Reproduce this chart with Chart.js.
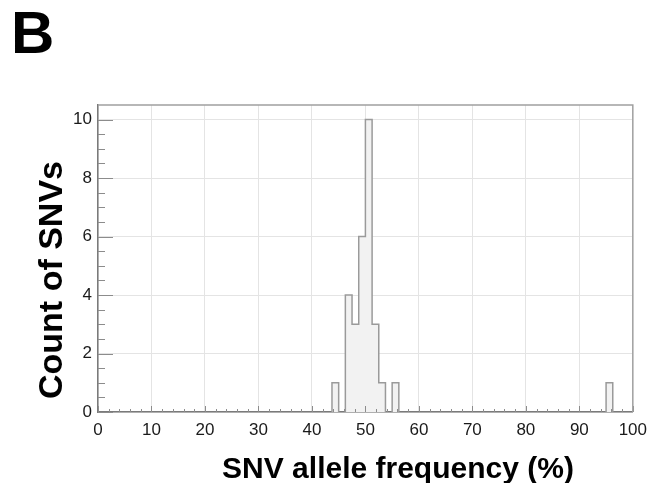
<!DOCTYPE html>
<html>
<head>
<meta charset="utf-8">
<script src="https://cdn.jsdelivr.net/npm/chart.js@4"></script>
<style>
body { margin: 0; background: #fff; }
#wrap { position: relative; width: 655px; height: 483px; font-family: "Liberation Sans", Arial, sans-serif; }
.lbl { position: absolute; font-weight: bold; line-height: 1; white-space: nowrap; color: #000; }
#panel { left: 11px; top: 3px; font-size: 60px; }
#xtitle { left: 398px; top: 453px; font-size: 30px; transform: translateX(-50%); }
#ytitle { left: 50px; top: 280px; font-size: 34px; transform: translate(-50%, -50%) rotate(-90deg); }
</style>
</head>
<body>
<div id="wrap">
  <canvas id="myChart" width="655" height="483"></canvas>
  <div class="lbl" id="panel">B</div>
  <div class="lbl" id="xtitle">SNV allele frequency (%)</div>
  <div class="lbl" id="ytitle">Count of SNVs</div>
</div>
<script>
// histogram bins (left edge, %) and counts
const binWidth = 1.25;
const binStarts = [43.75, 46.25, 47.5, 48.75, 50, 51.25, 52.5, 55, 95];
const binCounts = [1, 4, 3, 6, 10, 3, 1, 1, 1];
const xTicks = [0, 10, 20, 30, 40, 50, 60, 70, 80, 90, 100];
const yTicks = [0, 2, 4, 6, 8, 10];

// turn the bins into an outline: each point holds its value until the next one
function histPoints() {
    const pts = [];
    for (let i = 0; i < binStarts.length; i++) {
        const start = binStarts[i];
        const end = start + binWidth;
        const prevEnd = i > 0 ? binStarts[i - 1] + binWidth : null;
        if (i === 0 || Math.abs(prevEnd - start) > 1e-6) {
            if (i > 0) pts.push({ x: (prevEnd + start) / 2, y: null });
            pts.push({ x: start, y: 0 });
        }
        pts.push({ x: start, y: binCounts[i] });
        const next = binStarts[i + 1];
        if (next === undefined || Math.abs(next - end) > 1e-6) pts.push({ x: end, y: 0 });
    }
    return pts;
}

const frame = {
    id: 'frame',
    afterDatasetsDraw(chart) {
        const ctx = chart.ctx;
        const a = chart.chartArea;
        const xs = chart.scales.x;
        const ys = chart.scales.y;
        ctx.save();
        ctx.strokeStyle = '#8c8c8c';
        ctx.lineWidth = 1;
        ctx.beginPath();
        // x ticks every 2, longer at the labelled ones
        for (let v = 0; v <= 100; v += 2) {
            const px = Math.round(xs.getPixelForValue(v)) + 0.5;
            const len = xTicks.includes(v) ? 6 : 3;
            ctx.moveTo(px, a.bottom);
            ctx.lineTo(px, a.bottom - len);
        }
        // y ticks every 0.5, longer at the labelled ones
        for (let v = 0; v <= 10; v += 0.5) {
            const py = Math.round(ys.getPixelForValue(v)) + 0.5;
            const len = yTicks.includes(v) ? 15 : 7;
            ctx.moveTo(a.left, py);
            ctx.lineTo(a.left + len, py);
        }
        ctx.stroke();
        // top and right edges of the box
        ctx.strokeStyle = '#a0a0a0';
        ctx.lineWidth = 1.5;
        ctx.beginPath();
        ctx.moveTo(a.left, a.top);
        ctx.lineTo(a.right, a.top);
        ctx.lineTo(a.right, a.bottom);
        ctx.stroke();
        ctx.restore();
    }
};

const ctx = document.getElementById('myChart').getContext('2d');
new Chart(ctx, {
    type: 'line',
    data: {
        datasets: [
            {
                label: 'SNVs',
                data: histPoints(),
                stepped: 'before',
                fill: 'origin',
                spanGaps: false,
                backgroundColor: '#f2f2f2',
                borderColor: '#9a9a9a',
                borderWidth: 1.5,
                pointRadius: 0
            }
        ]
    },
    options: {
        responsive: false,
        animation: false,
        layout: { padding: { left: 0, right: 22, top: 105, bottom: 0 } },
        plugins: {
            legend: { display: false },
            tooltip: { enabled: false }
        },
        scales: {
            x: {
                type: 'linear',
                min: 0,
                max: 100,
                afterFit: s => { s.height = 71; },
                afterBuildTicks: s => { s.ticks = xTicks.map(v => ({ value: v })); },
                ticks: {
                    padding: 8,
                    color: '#1a1a1a',
                    font: { family: '"Liberation Sans", Arial, sans-serif', size: 17 }
                },
                grid: { color: '#e4e4e4', drawTicks: false },
                border: { color: '#7a7a7a', width: 1.5 }
            },
            y: {
                min: 0,
                max: 10.5,
                afterFit: s => { s.width = 98; },
                afterBuildTicks: s => { s.ticks = yTicks.map(v => ({ value: v })); },
                ticks: {
                    padding: 6,
                    color: '#1a1a1a',
                    font: { family: '"Liberation Sans", Arial, sans-serif', size: 17 }
                },
                grid: { color: '#e4e4e4', drawTicks: false },
                border: { color: '#7a7a7a', width: 1.5 }
            }
        }
    },
    plugins: [frame]
});
</script>
</body>
</html>
